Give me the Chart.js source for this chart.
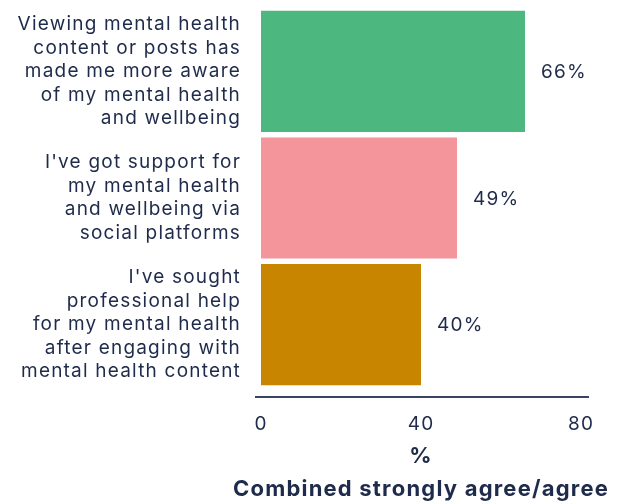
<!DOCTYPE html>
<html lang="en">
<head>
    <meta charset="UTF-8">
    <title>Mental health content</title>
    <script src="https://cdn.jsdelivr.net/npm/chart.js"></script>
    <style>
        html, body { margin: 0; padding: 0; background: #fff; }
        #wrap { width: 629px; height: 504px; }
    </style>
</head>
<body>
    <div id="wrap"><canvas id="chart"></canvas></div>

    <script>
        // Datos del gráfico
        const categories = [
            ['Viewing mental health', 'content or posts has', 'made me more aware', 'of my mental health', 'and wellbeing'],
            ["I've got support for", 'my mental health', 'and wellbeing via', 'social platforms'],
            ["I've sought", 'professional help', 'for my mental health', 'after engaging with', 'mental health content']
        ];
        const values = [66, 49, 40];
        const barColors = ['#4cb77e', '#f4959b', '#c88600'];
        const xTicks = [0, 40, 80];
        const axisTitle = ['%', 'Combined strongly agree/agree'];

        const ink = '#1f2b4b';
        const fontFamily = 'Inter, "Open Sans", sans-serif';
        const spacing = '1.2px';

        // letras más separadas, como la fuente del original
        const letterSpacing = {
            id: 'letterSpacing',
            beforeLayout(chart) { chart.ctx.letterSpacing = spacing; },
            beforeDraw(chart) { chart.ctx.letterSpacing = spacing; }
        };

        // etiquetas de valor a la derecha de cada barra
        const valueLabels = {
            id: 'valueLabels',
            afterDatasetsDraw(chart) {
                const ctx = chart.ctx;
                const meta = chart.getDatasetMeta(0);
                ctx.save();
                ctx.font = '19px ' + fontFamily;
                ctx.fillStyle = ink;
                ctx.textAlign = 'left';
                ctx.textBaseline = 'middle';
                meta.data.forEach((bar, i) => {
                    ctx.fillText(values[i] + '%', bar.x + 16, bar.y + 1);
                });
                ctx.restore();
            }
        };

        // línea del eje x, un poco separada de las barras
        const axisLine = {
            id: 'axisLine',
            afterDraw(chart) {
                const ctx = chart.ctx;
                const x = chart.scales.x;
                const y = chart.chartArea.bottom + 9;
                ctx.save();
                ctx.strokeStyle = '#3a4562';
                ctx.lineWidth = 2;
                ctx.beginPath();
                ctx.moveTo(x.getPixelForValue(-1.5), y);
                ctx.lineTo(x.getPixelForValue(82), y);
                ctx.stroke();
                ctx.restore();
            }
        };

        new Chart(document.getElementById('chart'), {
            type: 'bar',
            data: {
                labels: categories,
                datasets: [{
                    data: values,
                    backgroundColor: barColors,
                    borderWidth: 0,
                    barPercentage: 0.957,
                    categoryPercentage: 1
                }]
            },
            options: {
                indexAxis: 'y',
                responsive: true,
                maintainAspectRatio: false,
                animation: false,
                layout: { padding: { top: 8, right: 18, bottom: 0, left: 0 } },
                plugins: {
                    legend: { display: false },
                    tooltip: { enabled: false }
                },
                scales: {
                    x: {
                        // margen a ambos lados para que el título quepa sin comprimirse
                        min: -7.5,
                        max: 87.5,
                        afterBuildTicks: (scale) => {
                            scale.ticks = xTicks.map(v => ({ value: v }));
                        },
                        afterFit: (scale) => {
                            scale.height = 116;
                            scale.paddingLeft = 0;
                            scale.paddingRight = 0;
                        },
                        grid: { display: false, drawTicks: false },
                        border: { display: false },
                        ticks: {
                            color: ink,
                            padding: 25,
                            maxRotation: 0,
                            font: { family: fontFamily, size: 19 }
                        },
                        title: {
                            display: true,
                            text: axisTitle,
                            color: ink,
                            padding: { top: 0, bottom: -2 },
                            font: { family: fontFamily, size: 22, weight: 'bold', lineHeight: '33px' }
                        }
                    },
                    y: {
                        afterFit: (scale) => {
                            scale.width = 231;
                            scale.paddingTop = 0;
                            scale.paddingBottom = 0;
                            // las etiquetas pasan un poco del ancho del eje: sin recorte
                            scale._computeLabelArea = () => undefined;
                        },
                        grid: { display: false, drawTicks: false },
                        border: { display: false },
                        ticks: {
                            color: ink,
                            padding: -10,
                            autoSkip: false,
                            font: { family: fontFamily, size: 19, lineHeight: '23.5px' }
                        }
                    }
                }
            },
            plugins: [letterSpacing, valueLabels, axisLine]
        });
    </script>
</body>
</html>
